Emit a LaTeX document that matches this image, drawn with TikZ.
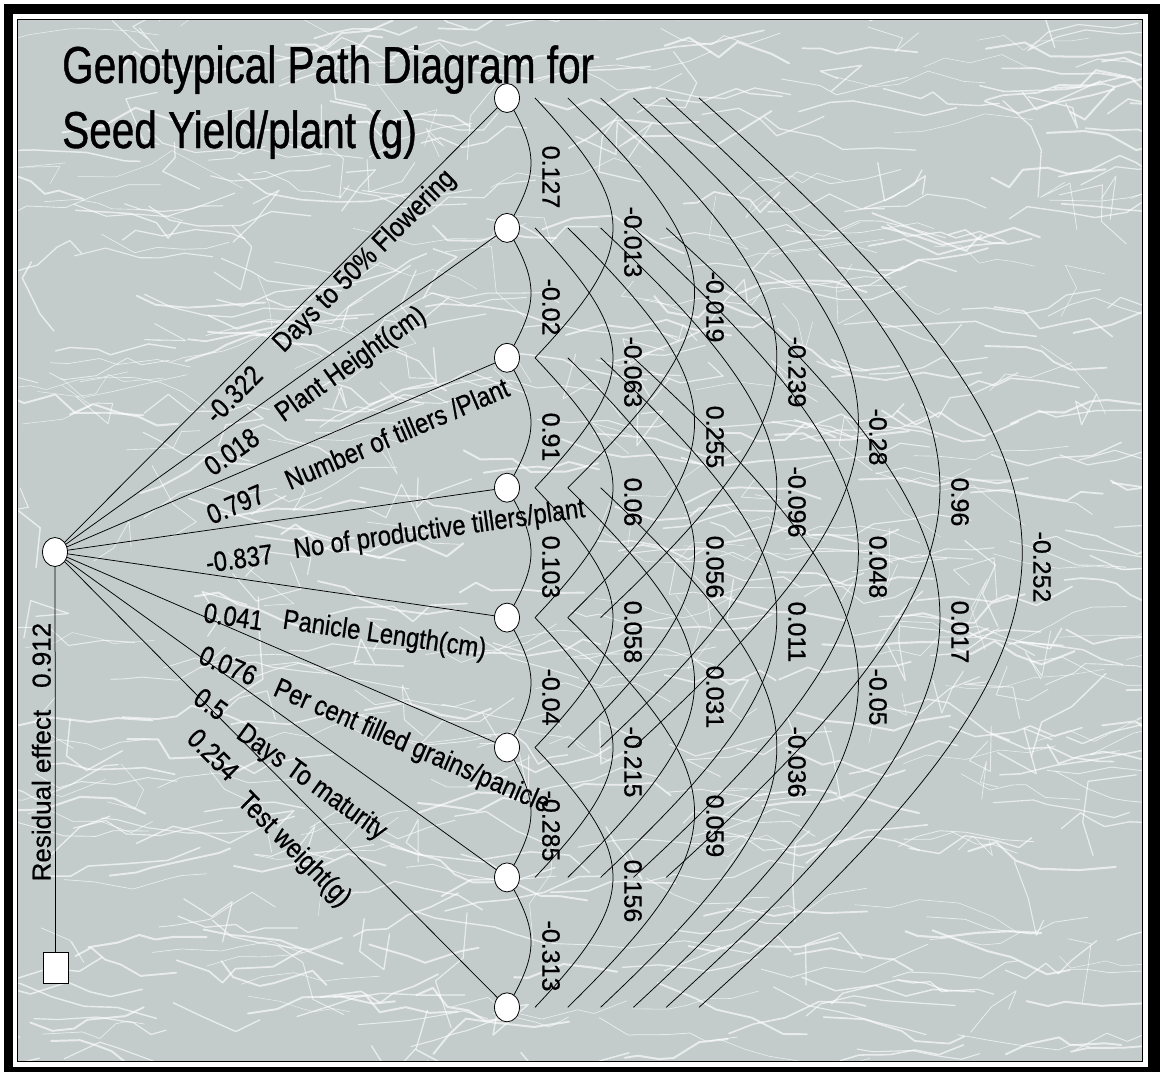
\documentclass[tikz,border=0pt]{standalone}
\usepackage{fontspec}
\setmainfont[FakeBold=0.6]{Liberation Sans}
\newfontfamily\titlefont[FakeStretch=0.78,FakeBold=0.8]{Liberation Sans}
\newfontfamily\narrowfont[FakeStretch=0.85,FakeBold=0.6]{Liberation Sans}
\usetikzlibrary{shapes.geometric}
\pgfdeclarelayer{bglayer}
\pgfdeclarelayer{edgelayer}
\pgfdeclarelayer{nodelayer}
\pgfsetlayers{bglayer,edgelayer,nodelayer,main}
\definecolor{panelgrey}{RGB}{195,203,203}
\tikzstyle{trait}=[ellipse,draw=black,fill=white,minimum width=25pt,minimum height=29pt,inner sep=0pt,line width=0.8pt]
\tikzstyle{resid}=[rectangle,draw=black,fill=white,minimum width=25pt,minimum height=31pt,inner sep=0pt,line width=0.8pt]
\tikzstyle{direct}=[draw=black,line width=0.75pt]
\tikzstyle{corr}=[draw=black,line width=0.75pt]
\tikzstyle{plab}=[sloped,anchor=base west,inner sep=0pt,font=\narrowfont\fontsize{28}{32}\selectfont]
\tikzstyle{clab}=[rotate=-90,inner sep=0pt,font=\fontsize{25}{30}\selectfont]
\tikzstyle{title}=[anchor=base west,inner sep=0pt,font=\titlefont\fontsize{52}{60}\selectfont]
\tikzstyle{crack}=[white,opacity=0.65,line cap=round,line join=round]

\begin{document}
\begin{tikzpicture}[x=1pt,y=-1pt]
	\useasboundingbox (0,0) rectangle (1163,1072);
	\begin{pgfonlayer}{bglayer}
		\fill [black] (4,4) rectangle (1160,1072);
		\fill [white] (13,14) rectangle (1148,1067);
		\fill [panelgrey] (17,19) rectangle (1142,1061);
		\begin{scope}
			\clip (17,19) rectangle (1142,1061);
			\pgfmathsetseed{17}
			% marbled background
			\foreach \k in {1,...,460} {
				\pgfmathsetmacro\tx{-20+1180*rnd}
				\pgfmathsetmacro\ty{19+1042*rnd}
				\pgfmathsetmacro\tw{0.5+1.6*rnd}
				\draw [style=crack, line width=\tw pt] (\tx,\ty) -- ++({-30+60*rnd}:{12+30*rnd}) -- ++({-30+60*rnd}:{12+30*rnd}) -- ++({-30+60*rnd}:{12+30*rnd}) -- ++({-30+60*rnd}:{12+30*rnd}) -- ++({-30+60*rnd}:{12+30*rnd});
			}
			\foreach \k in {1,...,160} {
				\pgfmathsetmacro\tx{17+1125*rnd}
				\pgfmathsetmacro\ty{19+1042*rnd}
				\pgfmathsetmacro\tw{0.5+1.0*rnd}
				\draw [style=crack, line width=\tw pt] (\tx,\ty) -- ++({360*rnd}:{15+35*rnd}) -- ++({360*rnd}:{15+35*rnd}) -- ++({360*rnd}:{15+35*rnd});
			}
		\end{scope}
		\draw [black, line width=0.8pt] (17,19) rectangle (1142,1061);
	\end{pgfonlayer}
	\begin{pgfonlayer}{nodelayer}
		\node [style=trait] (0) at (55, 552) {};
		\node [style=trait] (1) at (507, 98) {};
		\node [style=trait] (2) at (507, 227.9) {};
		\node [style=trait] (3) at (507, 357.8) {};
		\node [style=trait] (4) at (507, 487.7) {};
		\node [style=trait] (5) at (507, 617.6) {};
		\node [style=trait] (6) at (507, 747.5) {};
		\node [style=trait] (7) at (507, 877.4) {};
		\node [style=trait] (8) at (507, 1007.3) {};
		\node [style=resid] (9) at (55.5, 968) {};
	\end{pgfonlayer}
	\node [style=title] (10) at (62, 83) {Genotypical Path Diagram for};
	\node [style=title] (11) at (62, 148) {Seed Yield/plant (g)};
	\begin{pgfonlayer}{edgelayer}
		% direct paths
		\draw [style=direct] (0.center) to node[style=plab, pos=0.318, yshift=-25pt]{-0.322} node[style=plab, pos=0.471, yshift=-22pt]{Days to 50\% Flowering} (1.center);
		\draw [style=direct] (0.center) to node[style=plab, pos=0.309, yshift=-31pt]{0.018} node[style=plab, pos=0.469, yshift=-28pt]{Plant Height(cm)} (2.center);
		\draw [style=direct] (0.center) to node[style=plab, pos=0.314, yshift=-37pt]{0.797} node[style=plab, pos=0.488, yshift=-36pt]{Number of tillers /Plant} (3.center);
		\draw [style=direct] (0.center) to node[style=plab, pos=0.323, yshift=-42pt]{-0.837} node[style=plab, pos=0.518, yshift=-40pt]{No of productive tillers/plant} (4.center);
		\draw [style=direct] (0.center) to node[style=plab, pos=0.341, yshift=-48pt]{0.041} node[style=plab, pos=0.515, yshift=-43pt]{Panicle Length(cm)} (5.center);
		\draw [style=direct] (0.center) to node[style=plab, pos=0.353, yshift=-45pt]{0.076} node[style=plab, pos=0.519, yshift=-45pt]{Per cent filled grains/panicle} (6.center);
		\draw [style=direct] (0.center) to node[style=plab, pos=0.356, yshift=-42pt]{0.5} node[style=plab, pos=0.456, yshift=-45pt]{Days To maturity} (7.center);
		\draw [style=direct] (0.center) to node[style=plab, pos=0.351, yshift=-40pt]{0.254} node[style=plab, pos=0.476, yshift=-48pt]{Test weight(g)} (8.center);
		\draw [style=direct] (9.north) to node[midway, rotate=90, anchor=south, inner sep=4pt, font=\fontsize{26}{30}\selectfont]{Residual effect\hspace{22pt}0.912} (0.center);
		% correlations
		\draw [style=corr] (1.center) .. controls +(32,55) and +(32,-55) .. (2.center) node[style=clab] at (551,177) {0.127};
		\draw [style=corr] (2.center) .. controls +(32,55) and +(32,-55) .. (3.center) node[style=clab] at (551,307) {-0.02};
		\draw [style=corr] (3.center) .. controls +(32,55) and +(32,-55) .. (4.center) node[style=clab] at (551,437) {0.91};
		\draw [style=corr] (4.center) .. controls +(32,55) and +(32,-55) .. (5.center) node[style=clab] at (551,567) {0.103};
		\draw [style=corr] (5.center) .. controls +(32,55) and +(32,-55) .. (6.center) node[style=clab] at (551,697) {-0.04};
		\draw [style=corr] (6.center) .. controls +(32,55) and +(32,-55) .. (7.center) node[style=clab] at (551,826) {-0.285};
		\draw [style=corr] (7.center) .. controls +(32,55) and +(32,-55) .. (8.center) node[style=clab] at (551,956) {-0.313};
		\draw [style=corr] ([xshift=28pt]1.center) .. controls +(104,110) and +(104,-110) .. ([xshift=28pt]3.center) node[style=clab] at (633,242) {-0.013};
		\draw [style=corr] ([xshift=28pt]2.center) .. controls +(104,110) and +(104,-110) .. ([xshift=28pt]4.center) node[style=clab] at (633,372) {-0.063};
		\draw [style=corr] ([xshift=28pt]3.center) .. controls +(104,110) and +(104,-110) .. ([xshift=28pt]5.center) node[style=clab] at (633,502) {0.06};
		\draw [style=corr] ([xshift=28pt]4.center) .. controls +(104,110) and +(104,-110) .. ([xshift=28pt]6.center) node[style=clab] at (633,632) {0.058};
		\draw [style=corr] ([xshift=28pt]5.center) .. controls +(104,110) and +(104,-110) .. ([xshift=28pt]7.center) node[style=clab] at (633,762) {-0.215};
		\draw [style=corr] ([xshift=28pt]6.center) .. controls +(104,110) and +(104,-110) .. ([xshift=28pt]8.center) node[style=clab] at (633,891) {0.156};
		\draw [style=corr] ([xshift=60.8pt]1.center) .. controls +(169,166) and +(169,-166) .. ([xshift=60.8pt]4.center) node[style=clab] at (715,307) {-0.019};
		\draw [style=corr] ([xshift=60.8pt]2.center) .. controls +(169,166) and +(169,-166) .. ([xshift=60.8pt]5.center) node[style=clab] at (715,437) {0.255};
		\draw [style=corr] ([xshift=60.8pt]3.center) .. controls +(169,166) and +(169,-166) .. ([xshift=60.8pt]6.center) node[style=clab] at (715,567) {0.056};
		\draw [style=corr] ([xshift=60.8pt]4.center) .. controls +(169,166) and +(169,-166) .. ([xshift=60.8pt]7.center) node[style=clab] at (715,697) {0.031};
		\draw [style=corr] ([xshift=60.8pt]5.center) .. controls +(169,166) and +(169,-166) .. ([xshift=60.8pt]8.center) node[style=clab] at (715,826) {0.059};
		\draw [style=corr] ([xshift=93.6pt]1.center) .. controls +(235,221) and +(235,-221) .. ([xshift=93.6pt]5.center) node[style=clab] at (797,372) {-0.239};
		\draw [style=corr] ([xshift=93.6pt]2.center) .. controls +(235,221) and +(235,-221) .. ([xshift=93.6pt]6.center) node[style=clab] at (797,502) {-0.096};
		\draw [style=corr] ([xshift=93.6pt]3.center) .. controls +(235,221) and +(235,-221) .. ([xshift=93.6pt]7.center) node[style=clab] at (797,632) {0.011};
		\draw [style=corr] ([xshift=93.6pt]4.center) .. controls +(235,221) and +(235,-221) .. ([xshift=93.6pt]8.center) node[style=clab] at (797,762) {-0.036};
		\draw [style=corr] ([xshift=126.4pt]1.center) .. controls +(300,276) and +(300,-276) .. ([xshift=126.4pt]6.center) node[style=clab] at (878,437) {-0.28};
		\draw [style=corr] ([xshift=126.4pt]2.center) .. controls +(300,276) and +(300,-276) .. ([xshift=126.4pt]7.center) node[style=clab] at (878,567) {0.048};
		\draw [style=corr] ([xshift=126.4pt]3.center) .. controls +(300,276) and +(300,-276) .. ([xshift=126.4pt]8.center) node[style=clab] at (878,697) {-0.05};
		\draw [style=corr] ([xshift=159.2pt]1.center) .. controls +(365,331) and +(365,-331) .. ([xshift=159.2pt]7.center) node[style=clab] at (960,502) {0.96};
		\draw [style=corr] ([xshift=159.2pt]2.center) .. controls +(365,331) and +(365,-331) .. ([xshift=159.2pt]8.center) node[style=clab] at (960,632) {0.017};
		\draw [style=corr] ([xshift=192pt]1.center) .. controls +(431,386) and +(431,-386) .. ([xshift=192pt]8.center) node[style=clab] at (1042,567) {-0.252};
	\end{pgfonlayer}
\end{tikzpicture}
\end{document}
